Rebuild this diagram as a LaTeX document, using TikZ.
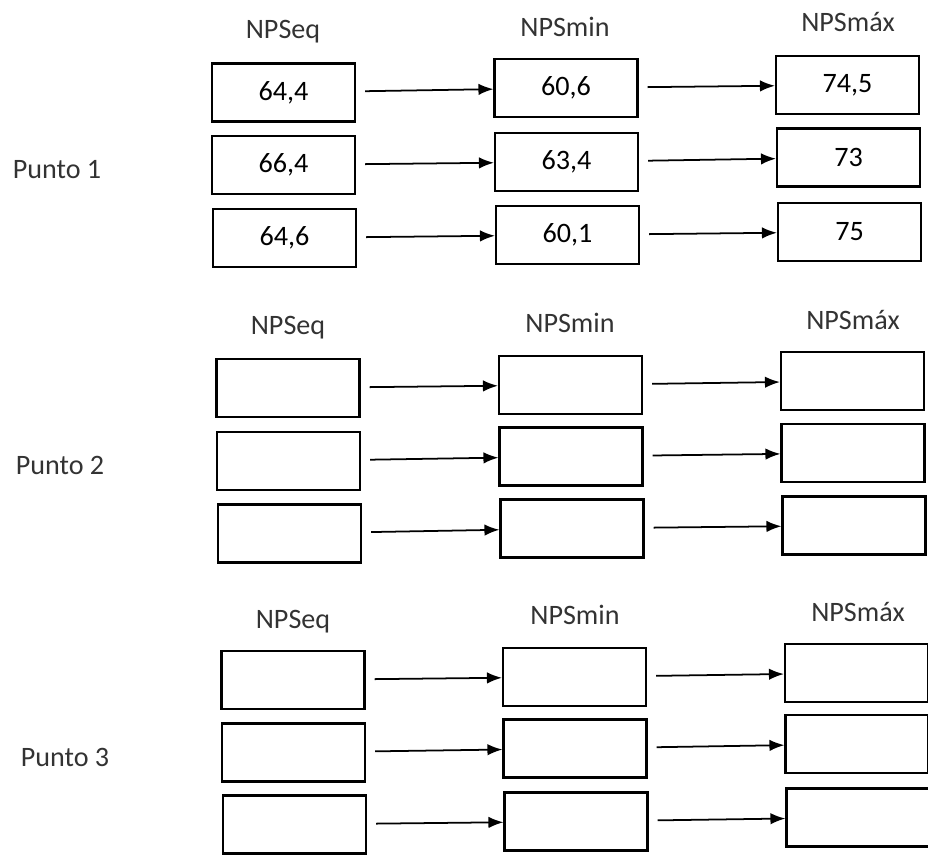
\documentclass[tikz,border=0pt]{standalone}
\usepackage{fontspec}
\setmainfont{Carlito}
\usepackage{tikz}
\usetikzlibrary{arrows.meta}

\begin{document}
\begin{tikzpicture}[
    font=\fontsize{16}{19}\selectfont,
    box/.style={draw, line width=1.2pt, minimum width=2.86cm, minimum height=1.16cm, inner sep=0pt, fill=white},
    head/.style={inner sep=1pt, text=black!80},
    rowlabel/.style={inner sep=1pt, text=black!80},
    arrow/.style={-{Latex[length=3mm, width=2.3mm]}, line width=1pt, shorten <=0.18cm}
]
\useasboundingbox (0,0) rectangle (18.56,-17.18);

% Punto 1
\node[rowlabel] (p1) at (1.14,-3.40) {Punto 1};
\node[head] (p1_eq) at (5.66,-0.64) {NPSeq};
\node[head] (p1_min) at (11.30,-0.54) {NPSmin};
\node[head] (p1_max) at (16.96,-0.44) {NPSmáx};
\node[box] (p1_eq1) at (5.67,-1.85) {64,4};
\node[box] (p1_eq2) at (5.67,-3.30) {66,4};
\node[box] (p1_eq3) at (5.69,-4.76) {64,6};
\node[box] (p1_min1) at (11.32,-1.76) {60,6};
\node[box] (p1_min2) at (11.33,-3.24) {63,4};
\node[box] (p1_min3) at (11.35,-4.70) {60,1};
\node[box] (p1_max1) at (16.95,-1.70) {74,5};
\node[box] (p1_max2) at (16.97,-3.15) {73};
\node[box] (p1_max3) at (16.99,-4.64) {75};

% Punto 2
\node[rowlabel] (p2) at (1.20,-9.30) {Punto 2};
\node[head] (p2_eq) at (5.76,-6.56) {NPSeq};
\node[head] (p2_min) at (11.40,-6.46) {NPSmin};
\node[head] (p2_max) at (17.06,-6.40) {NPSmáx};
\node[box] (p2_eq1) at (5.76,-7.76) {};
\node[box] (p2_eq2) at (5.77,-9.22) {};
\node[box] (p2_eq3) at (5.79,-10.67) {};
\node[box] (p2_min1) at (11.41,-7.70) {};
\node[box] (p2_min2) at (11.42,-9.13) {};
\node[box] (p2_min3) at (11.44,-10.57) {};
\node[box] (p2_max1) at (17.05,-7.62) {};
\node[box] (p2_max2) at (17.06,-9.06) {};
\node[box] (p2_max3) at (17.08,-10.51) {};

% Punto 3
\node[rowlabel] (p3) at (1.30,-15.14) {Punto 3};
\node[head] (p3_eq) at (5.86,-12.44) {NPSeq};
\node[head] (p3_min) at (11.50,-12.30) {NPSmin};
\node[head] (p3_max) at (17.16,-12.24) {NPSmáx};
\node[box] (p3_eq1) at (5.86,-13.60) {};
\node[box] (p3_eq2) at (5.87,-15.05) {};
\node[box] (p3_eq3) at (5.89,-16.49) {};
\node[box] (p3_min1) at (11.49,-13.54) {};
\node[box] (p3_min2) at (11.50,-14.97) {};
\node[box] (p3_min3) at (11.52,-16.43) {};
\node[box] (p3_max1) at (17.13,-13.46) {};
\node[box] (p3_max2) at (17.14,-14.88) {};
\node[box] (p3_max3) at (17.16,-16.35) {};

\draw[arrow] (p1_eq1) -- (p1_min1);
\draw[arrow] (p1_eq2) -- (p1_min2);
\draw[arrow] (p1_eq3) -- (p1_min3);
\draw[arrow] (p1_min1) -- (p1_max1);
\draw[arrow] (p1_min2) -- (p1_max2);
\draw[arrow] (p1_min3) -- (p1_max3);
\draw[arrow] (p2_eq1) -- (p2_min1);
\draw[arrow] (p2_eq2) -- (p2_min2);
\draw[arrow] (p2_eq3) -- (p2_min3);
\draw[arrow] (p2_min1) -- (p2_max1);
\draw[arrow] (p2_min2) -- (p2_max2);
\draw[arrow] (p2_min3) -- (p2_max3);
\draw[arrow] (p3_eq1) -- (p3_min1);
\draw[arrow] (p3_eq2) -- (p3_min2);
\draw[arrow] (p3_eq3) -- (p3_min3);
\draw[arrow] (p3_min1) -- (p3_max1);
\draw[arrow] (p3_min2) -- (p3_max2);
\draw[arrow] (p3_min3) -- (p3_max3);
\end{tikzpicture}
\end{document}
